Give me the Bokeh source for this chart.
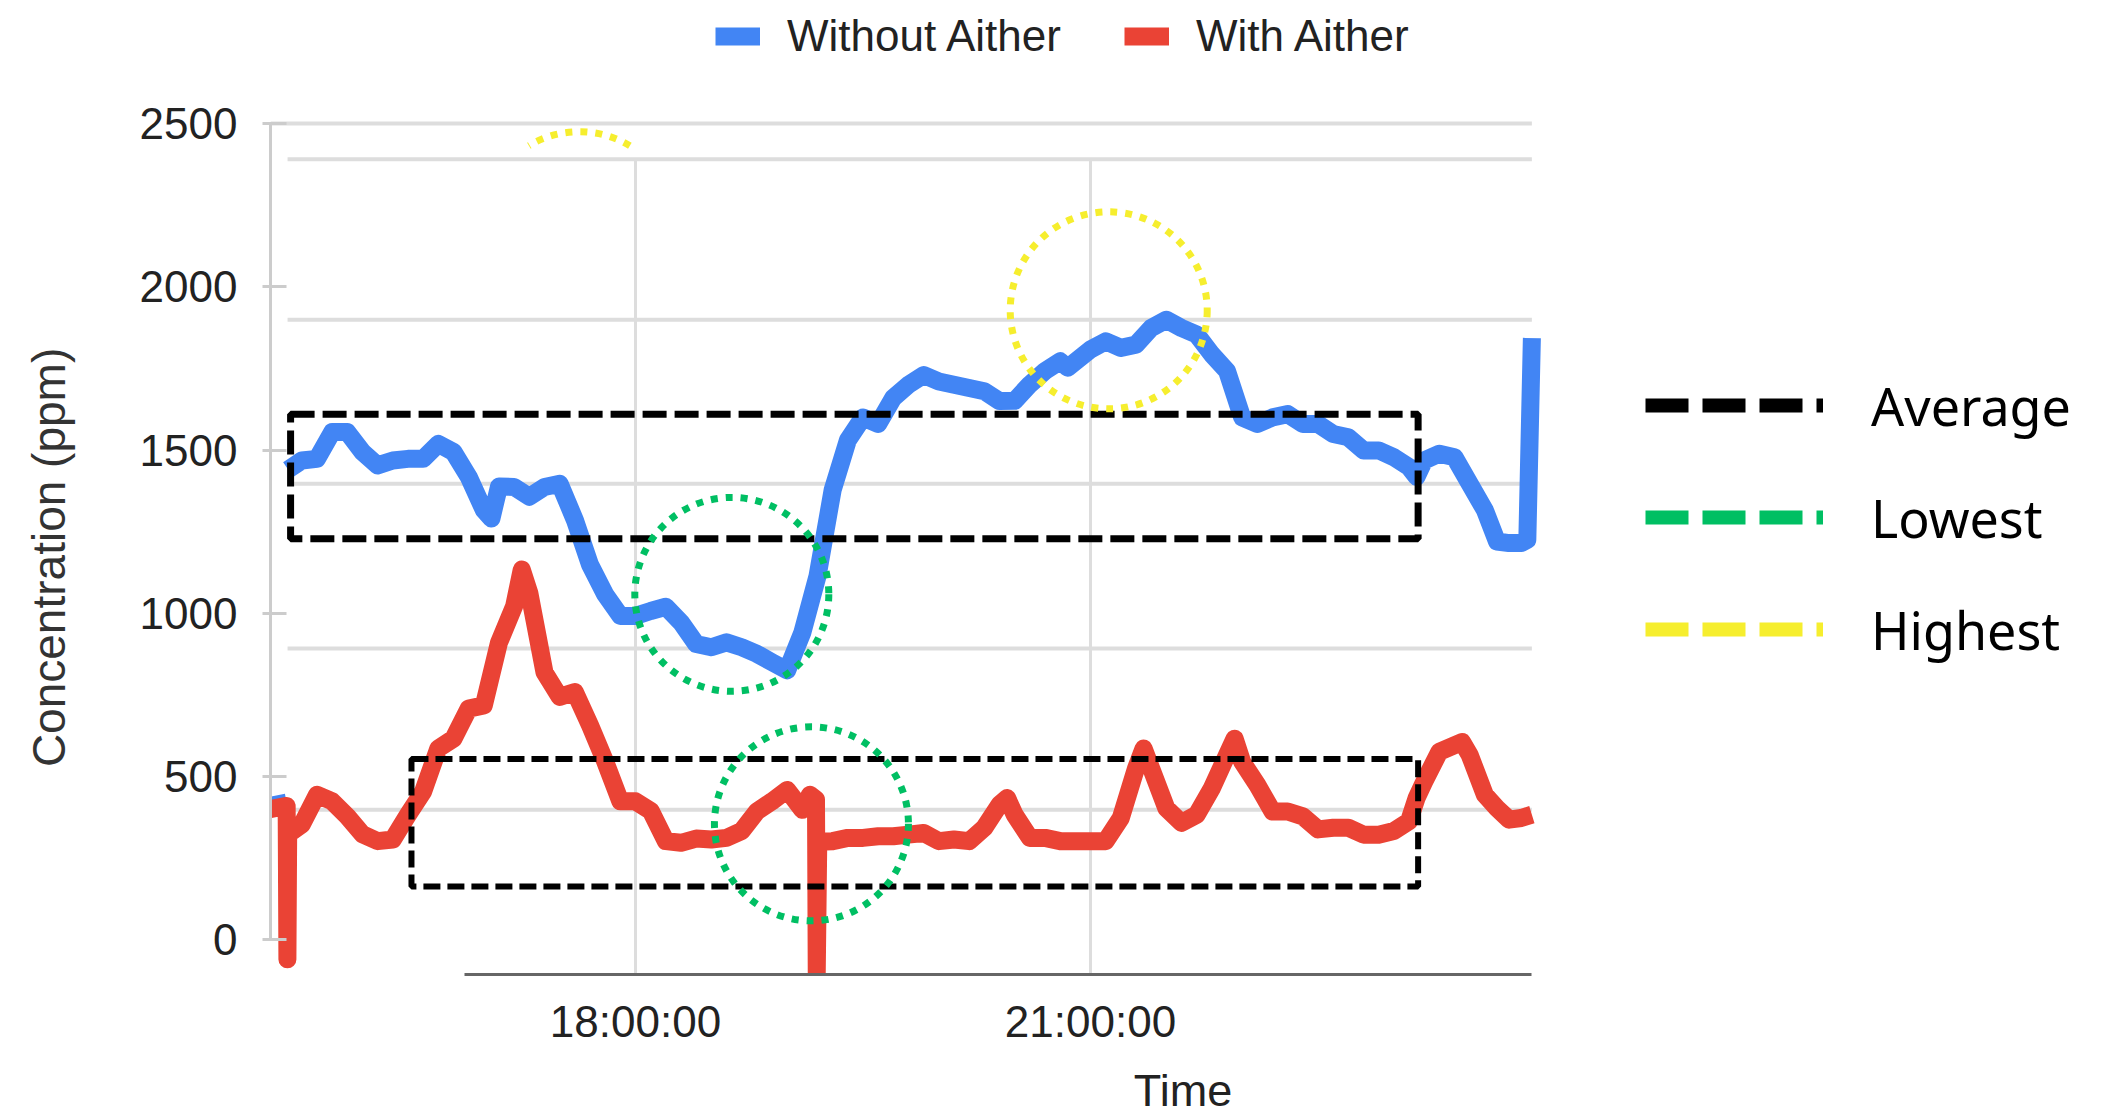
from bokeh.plotting import figure
from bokeh.models import Range1d, FixedTicker, Legend, LegendItem, LinearAxis
from bokeh.embed import file_html
from bokeh.resources import INLINE

nan = float("nan")

# ---------------- data (hours of day, ppm) ----------------
hours_without = [15.59, 15.70, 15.705, 15.71, 15.8, 15.9, 16.0, 16.1, 16.2, 16.3, 16.4, 16.5,
                 16.6, 16.7, 16.8, 16.9, 17.0, 17.05, 17.1, 17.2, 17.3, 17.4, 17.5, 17.6,
                 17.7, 17.8, 17.9, 18.0, 18.1, 18.2, 18.3, 18.4, 18.5, 18.6, 18.7, 18.8,
                 18.9, 19.0, 19.1, 19.2, 19.3, 19.4, 19.5, 19.6, 19.7, 19.8, 19.9, 20.0,
                 20.1, 20.2, 20.3, 20.4, 20.5, 20.6, 20.7, 20.8, 20.85, 21.0, 21.1, 21.2,
                 21.3, 21.4, 21.5, 21.6, 21.7, 21.8, 21.9, 22.0, 22.1, 22.2, 22.3, 22.4,
                 22.5, 22.6, 22.7, 22.8, 22.9, 23.0, 23.1, 23.15, 23.2, 23.3, 23.4, 23.5,
                 23.6, 23.68, 23.76, 23.84, 23.88, 23.91]
ppm_without = [410, 420, nan, 1440, 1468, 1473, 1555, 1555, 1494, 1453, 1468, 1473,
               1473, 1519, 1494, 1418, 1316, 1290, 1388, 1387, 1357, 1387, 1397, 1286,
               1149, 1058, 992, 992, 1007, 1020, 972, 906, 896, 911, 896, 876,
               850, 825, 941, 1114, 1378, 1530, 1600, 1580, 1660, 1700, 1730, 1710,
               1700, 1690, 1680, 1650, 1651, 1701, 1742, 1772, 1752, 1808, 1833, 1813,
               1823, 1874, 1899, 1874, 1854, 1793, 1742, 1600, 1580, 1600, 1610, 1580,
               1580, 1549, 1539, 1499, 1499, 1478, 1448, 1418, 1468, 1489, 1478, 1397,
               1316, 1220, 1215, 1215, 1225, 1843]

hours_with = [15.59, 15.70, 15.705, 15.71, 15.8, 15.9, 16.0, 16.1, 16.2, 16.3, 16.4, 16.5,
              16.6, 16.7, 16.8, 16.9, 17.0, 17.1, 17.2, 17.25, 17.3, 17.4, 17.5, 17.6,
              17.7, 17.8, 17.9, 18.0, 18.1, 18.2, 18.3, 18.4, 18.5, 18.6, 18.7, 18.8,
              18.9, 19.0, 19.1, 19.15, 19.19, 19.195, 19.205, 19.3, 19.4, 19.5, 19.6, 19.7,
              19.8, 19.9, 20.0, 20.1, 20.2, 20.3, 20.4, 20.45, 20.5, 20.6, 20.7, 20.8,
              20.85, 21.0, 21.1, 21.2, 21.3, 21.35, 21.4, 21.5, 21.6, 21.7, 21.8, 21.9,
              21.95, 22.0, 22.1, 22.2, 22.3, 22.4, 22.5, 22.6, 22.7, 22.8, 22.9, 23.0,
              23.1, 23.15, 23.2, 23.3, 23.4, 23.45, 23.5, 23.6, 23.68, 23.76, 23.84, 23.91]
ppm_with = [400, 410, -60, 323, 353, 444, 424, 378, 323, 302, 307, 383,
            454, 586, 616, 708, 718, 910, 1022, 1134, 1062, 819, 744, 759,
            657, 546, 424, 424, 395, 302, 297, 310, 307, 312, 333, 393,
            424, 459, 398, 444, 430, -100, 300, 302, 312, 312, 317, 317,
            322, 327, 302, 307, 302, 343, 414, 434, 383, 312, 312, 302,
            302, 302, 302, 373, 525, 586, 525, 403, 358, 383, 464, 566,
            616, 545, 474, 393, 393, 378, 338, 343, 343, 322, 322, 333,
            363, 434, 484, 576, 596, 606, 566, 444, 403, 368, 373, 383]

series_names = ["Without Aither", "With Aither"]
series_colors = ["#4285F4", "#EA4335"]

# ---------------- annotation data ----------------
avg_box_left = [15.726, 16.523]
avg_box_right = [23.16, 23.16]
avg_box_bottom = [1228, 163]
avg_box_top = [1610, 554]
lowest_x = [18.635, 19.16]
lowest_y = [1058, 355]
highest_x = [21.12]
highest_y = [1928]
highest_partial_x = [17.63]
highest_partial_y = [2175]
marker_names = ["Average", "Lowest", "Highest"]
marker_colors = ["#000000", "#00BF63", "#F6EE2E"]

# ---------------- axes / grid ----------------
y_ticks = [0, 500, 1000, 1500, 2000, 2500]
y_title = "Concentration (ppm)"
y_title_at = 1171
x_ticks = [18, 21]
x_tick_labels = ["18:00:00", "21:00:00"]
x_title = "Time"
x_title_at = 21.61
grid_ppm = [398, 892, 1397, 1899, 2391]
top_rule_ppm = [2500]
x_start, x_end = 15.5935, 23.91     # time span of the chart area
y_start, y_end = -106.4, 2500
x_view_end, y_view_end = 27.725, 2877   # frame runs on to the page edges (legends live there)

FONT = "Liberation Sans"

p = figure(width=2110, height=1118,
           x_range=Range1d(x_start, x_view_end), y_range=Range1d(y_start, y_view_end),
           output_backend="svg", toolbar_location=None,
           min_border_left=270, min_border_right=0,
           min_border_top=0, min_border_bottom=137)
p.outline_line_color = None
p.background_fill_color = "white"
p.xgrid.visible = False
p.ygrid.visible = False

# gridlines as in the source picture
p.segment(x0=[15.706] * len(grid_ppm), x1=[x_end] * len(grid_ppm), y0=grid_ppm, y1=grid_ppm,
          line_color="#dddddd", line_width=4)
p.segment(x0=[x_start], x1=[x_end], y0=top_rule_ppm, y1=top_rule_ppm,
          line_color="#dddddd", line_width=4)
p.segment(x0=x_ticks, x1=x_ticks, y0=[y_start] * len(x_ticks), y1=[grid_ppm[-1]] * len(x_ticks),
          line_color="#dddddd", line_width=3)

# x axis
xa = p.xaxis[0]
xa.ticker = FixedTicker(ticks=x_ticks)
xa.major_label_overrides = {t: l for t, l in zip(x_ticks, x_tick_labels)}
xa.bounds = (16.87, x_end)
xa.axis_line_color = "#666666"
xa.axis_line_width = 3
xa.major_tick_line_color = None
xa.minor_tick_line_color = None
xa.major_tick_out = 0
xa.major_tick_in = 0
xa.major_label_standoff = 22
xa.major_label_text_font = FONT
xa.major_label_text_font_size = "44px"
xa.major_label_text_color = "#222222"

time_axis = LinearAxis(ticker=FixedTicker(ticks=[x_title_at]),
                       major_label_overrides={x_title_at: x_title})
time_axis.axis_line_color = None
time_axis.major_tick_line_color = None
time_axis.minor_tick_line_color = None
time_axis.major_tick_out = 0
time_axis.major_tick_in = 0
time_axis.major_label_standoff = 16
time_axis.major_label_text_font = FONT
time_axis.major_label_text_font_size = "45px"
time_axis.major_label_text_color = "#222222"
p.add_layout(time_axis, "below")

# y axis
ya = p.yaxis[0]
ya.ticker = FixedTicker(ticks=y_ticks)
ya.bounds = (0, y_end)
ya.axis_line_color = "#cccccc"
ya.axis_line_width = 3
ya.major_tick_line_color = "#cccccc"
ya.major_tick_line_width = 3
ya.major_tick_out = 8
ya.major_tick_in = 16
ya.minor_tick_line_color = None
ya.major_label_standoff = 25
ya.major_label_text_font = FONT
ya.major_label_text_font_size = "44px"
ya.major_label_text_color = "#222222"

ytitle_axis = LinearAxis(ticker=FixedTicker(ticks=[y_title_at]),
                         major_label_overrides={y_title_at: y_title},
                         major_label_orientation="vertical")
ytitle_axis.axis_line_color = None
ytitle_axis.major_tick_line_color = None
ytitle_axis.minor_tick_line_color = None
ytitle_axis.major_tick_out = 0
ytitle_axis.major_tick_in = 0
ytitle_axis.major_label_standoff = 61
ytitle_axis.major_label_text_font = FONT
ytitle_axis.major_label_text_font_size = "46px"
ytitle_axis.major_label_text_color = "#333333"
p.add_layout(ytitle_axis, "left")

# ---------------- series ----------------
r_without = p.line(hours_without, ppm_without, line_color=series_colors[0],
                   line_width=18, line_join="round")
r_with = p.line(hours_with, ppm_with, line_color=series_colors[1],
                line_width=18, line_join="round")

# ---------------- annotations ----------------
p.quad(left=avg_box_left[:1], right=avg_box_right[:1], bottom=avg_box_bottom[:1], top=avg_box_top[:1],
       fill_color=None, line_color=marker_colors[0], line_width=7, line_dash="24 8")
p.quad(left=avg_box_left[1:], right=avg_box_right[1:], bottom=avg_box_bottom[1:], top=avg_box_top[1:],
       fill_color=None, line_color=marker_colors[0], line_width=6, line_dash="17 7")
p.ellipse(x=lowest_x, y=lowest_y, width=194, height=194, width_units="screen", height_units="screen",
          fill_color=None, line_color=marker_colors[1], line_width=7, line_dash="7 8")
p.ellipse(x=highest_x, y=highest_y, width=197, height=197, width_units="screen", height_units="screen",
          fill_color=None, line_color=marker_colors[2], line_width=7, line_dash="7 8")
p.arc(x=highest_partial_x, y=highest_partial_y, radius=98, radius_units="screen",
      start_angle=59, end_angle=121, start_angle_units="deg", end_angle_units="deg",
      line_color=marker_colors[2], line_width=7, line_dash="7 8")

# ---------------- legends ----------------
top_legend = Legend(items=[LegendItem(label=n, renderers=[r])
                           for n, r in zip(series_names, [r_without, r_with])],
                    orientation="horizontal", location=(445, 912),
                    glyph_width=45, glyph_height=52, label_standoff=27, spacing=63,
                    padding=0, margin=0, border_line_color=None, background_fill_alpha=0,
                    label_text_font=FONT, label_text_font_size="44px", label_text_color="#222222",
                    label_height=52)
p.add_layout(top_legend)

leg_marks = [p.line(x=[nan], y=[nan], line_color=c, line_width=14, line_dash="43 14")
             for c in marker_colors]
side_legend = Legend(items=[LegendItem(label=n, renderers=[r]) for n, r in zip(marker_names, leg_marks)],
                     orientation="vertical", location=(1375, 309),
                     glyph_width=178, glyph_height=72, label_standoff=48, spacing=40,
                     padding=0, margin=0, border_line_color=None, background_fill_alpha=0,
                     label_text_font="Noto Sans", label_text_font_size="52px", label_text_color="#000000",
                     label_height=72)
p.add_layout(side_legend)

open("out.html", "w").write(file_html(p, INLINE))
